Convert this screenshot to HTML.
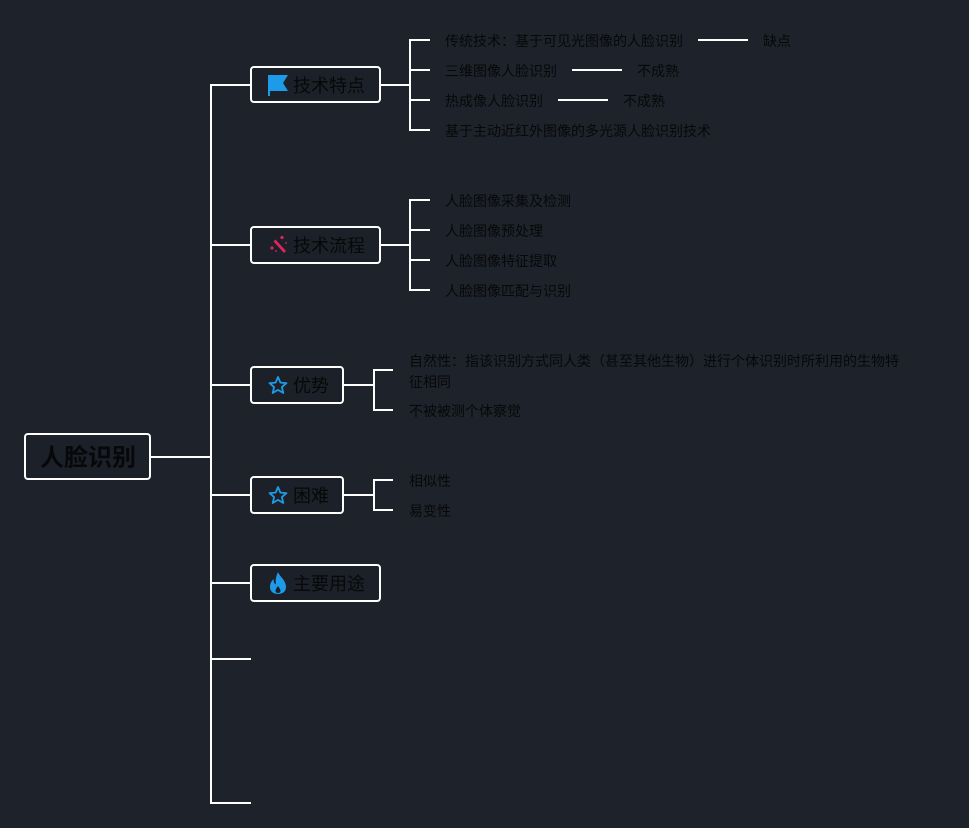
<!DOCTYPE html>
<html>
<head>
<meta charset="utf-8">
<style>
  html,body{margin:0;padding:0;background:#1e222a;}
  body{width:969px;height:828px;overflow:hidden;}
  svg{display:block;}
  text{font-family:"Liberation Sans","Noto Sans CJK SC",sans-serif;fill:#070809;dominant-baseline:central;}
  .s{font-size:14px;}
  .m{font-size:18px;}
  .r{font-size:24px;font-weight:bold;}
</style>
</head>
<body>
<svg width="969" height="828" viewBox="0 0 969 828" xmlns="http://www.w3.org/2000/svg">
  <rect x="0" y="0" width="969" height="828" fill="#1e222a"/>
  <g stroke="#ffffff" stroke-width="2" fill="none">
    <line x1="151" y1="457" x2="212" y2="457"/>
    <line x1="211" y1="84" x2="211" y2="804"/>
    <line x1="210" y1="85" x2="251" y2="85"/>
    <line x1="210" y1="245" x2="251" y2="245"/>
    <line x1="210" y1="385" x2="251" y2="385"/>
    <line x1="210" y1="495" x2="251" y2="495"/>
    <line x1="210" y1="583" x2="251" y2="583"/>
    <line x1="210" y1="659" x2="251" y2="659"/>
    <line x1="210" y1="803" x2="251" y2="803"/>

    <line x1="381" y1="85" x2="411" y2="85"/>
    <line x1="410" y1="39" x2="410" y2="131"/>
    <line x1="409" y1="40" x2="430" y2="40"/>
    <line x1="409" y1="70" x2="430" y2="70"/>
    <line x1="409" y1="100" x2="430" y2="100"/>
    <line x1="409" y1="130" x2="430" y2="130"/>
    <line x1="698" y1="40" x2="748" y2="40"/>
    <line x1="572" y1="70" x2="622" y2="70"/>
    <line x1="558" y1="100" x2="608" y2="100"/>

    <line x1="381" y1="245" x2="411" y2="245"/>
    <line x1="410" y1="199" x2="410" y2="291"/>
    <line x1="409" y1="200" x2="430" y2="200"/>
    <line x1="409" y1="230" x2="430" y2="230"/>
    <line x1="409" y1="260" x2="430" y2="260"/>
    <line x1="409" y1="290" x2="430" y2="290"/>

    <line x1="344" y1="385" x2="375" y2="385"/>
    <line x1="374" y1="369" x2="374" y2="411"/>
    <line x1="373" y1="370" x2="393" y2="370"/>
    <line x1="373" y1="410" x2="393" y2="410"/>

    <line x1="344" y1="495" x2="375" y2="495"/>
    <line x1="374" y1="479" x2="374" y2="511"/>
    <line x1="373" y1="480" x2="393" y2="480"/>
    <line x1="373" y1="510" x2="393" y2="510"/>
  </g>

  <g stroke="#ffffff" stroke-width="2" fill="#1c2028">
    <rect x="25" y="434" width="125" height="45" rx="3"/>
    <rect x="251" y="67" width="129" height="35" rx="3"/>
    <rect x="251" y="227" width="129" height="36" rx="3"/>
    <rect x="251" y="367" width="92" height="36" rx="3"/>
    <rect x="251" y="477" width="92" height="36" rx="3"/>
    <rect x="251" y="565" width="129" height="36" rx="3"/>
  </g>

  <path d="M268 75 L288 75 L283 83 L288 91 L270 91 L270 96 L268 96 Z" fill="#1e9be8"/>
  <g fill="#e0245e" stroke="none">
    <path d="M273.5 241.5 L275.5 239.5 L286 251 L284 253 Z"/>
    <circle cx="282" cy="237.5" r="1.6"/>
    <circle cx="272" cy="248" r="1.6"/>
    <circle cx="286" cy="243" r="0.9"/>
    <circle cx="276" cy="251" r="0.9"/>
  </g>
  <path d="M278 377 L280.4 382.6 L286.5 383.1 L281.9 387.1 L283.3 393 L278 389.9 L272.7 393 L274.1 387.1 L269.5 383.1 L275.6 382.6 Z" fill="none" stroke="#1e9be8" stroke-width="1.8" stroke-linejoin="round"/>
  <path d="M278 487 L280.4 492.6 L286.5 493.1 L281.9 497.1 L283.3 503 L278 499.9 L272.7 503 L274.1 497.1 L269.5 493.1 L275.6 492.6 Z" fill="none" stroke="#1e9be8" stroke-width="1.8" stroke-linejoin="round"/>
  <path d="M278 572 C279 576 286 580 286 587 C286 591.5 282.5 594 278 594 C273.5 594 270 591.5 270 587 C270 583 272 580.5 273.5 579 C273.5 582 274.5 584 276 584.5 C275 580 276.5 575 278 572 Z M278 586 C276.5 588 275.5 589.5 275.5 591 C275.5 592.3 276.6 593 278 593 C279.4 593 280.5 592.3 280.5 591 C280.5 589.5 279.5 588 278 586 Z" fill="#1e9be8" fill-rule="evenodd"/>

  <text class="r" x="40" y="458">人脸识别</text>
  <text class="m" x="293" y="86">技术特点</text>
  <text class="m" x="293" y="246">技术流程</text>
  <text class="m" x="293" y="386">优势</text>
  <text class="m" x="293" y="496">困难</text>
  <text class="m" x="293" y="584">主要用途</text>

  <text class="s" x="445" y="41">传统技术：基于可见光图像的人脸识别</text>
  <text class="s" x="763" y="41">缺点</text>
  <text class="s" x="445" y="71">三维图像人脸识别</text>
  <text class="s" x="637" y="71">不成熟</text>
  <text class="s" x="445" y="101">热成像人脸识别</text>
  <text class="s" x="623" y="101">不成熟</text>
  <text class="s" x="445" y="131">基于主动近红外图像的多光源人脸识别技术</text>

  <text class="s" x="445" y="201">人脸图像采集及检测</text>
  <text class="s" x="445" y="231">人脸图像预处理</text>
  <text class="s" x="445" y="261">人脸图像特征提取</text>
  <text class="s" x="445" y="291">人脸图像匹配与识别</text>

  <text class="s" x="409" y="361">自然性：指该识别方式同人类（甚至其他生物）进行个体识别时所利用的生物特</text>
  <text class="s" x="409" y="382">征相同</text>
  <text class="s" x="409" y="411">不被被测个体察觉</text>

  <text class="s" x="409" y="481">相似性</text>
  <text class="s" x="409" y="511">易变性</text>
</svg>
</body>
</html>
